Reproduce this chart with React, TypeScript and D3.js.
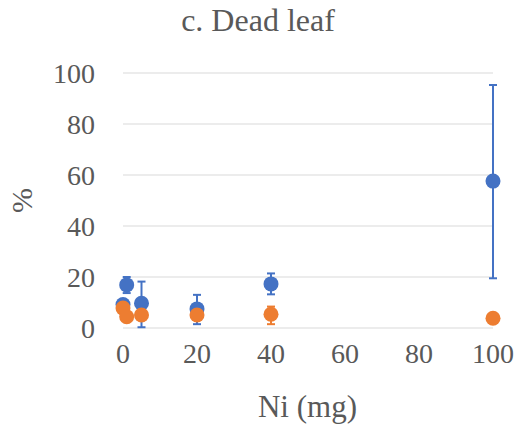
import React from "react";
import * as d3 from "d3";

const xValues = [0, 1, 5, 20, 40, 100];
const seriesBlue = [9.2, 16.9, 9.7, 7.5, 17.3, 57.6];
const blueErrUp = [1.5, 3.1, 8.5, 5.5, 4.1, 37.7];
const blueErrDown = [1.5, 3.2, 9.4, 6.0, 4.1, 38.1];
const seriesOrange = [7.8, 4.4, 5.1, 5.1, 5.4, 3.8];
const orangeErrUp = [1.5, 1.0, 1.5, 1.5, 3.0, 1.0];
const orangeErrDown = [1.5, 1.0, 1.5, 1.5, 3.9, 1.0];
const yTicks = [0, 20, 40, 60, 80, 100];
const xTicks = [0, 20, 40, 60, 80, 100];
const title = "c. Dead leaf";
const xTitle = "Ni (mg)";
const yTitle = "%";

const W = 519;
const H = 433;
const textColor = "#595959";
const FAMILY = "Liberation Serif";

function T(props: any) {
  const { children, ...rest } = props;
  return (
    <text fontFamily={FAMILY} fill={textColor} style={{ fontFamily: FAMILY }} {...rest}>
      {children}
    </text>
  );
}

export default function App() {
  const x = d3.scaleLinear().domain([0, 100]).range([123, 493]);
  const y = d3.scaleLinear().domain([0, 100]).range([328, 73]);

  const series = [
    { vals: seriesBlue, up: blueErrUp, down: blueErrDown, color: "#4472C4" },
    { vals: seriesOrange, up: orangeErrUp, down: orangeErrDown, color: "#ED7D31" },
  ];

  return (
    <svg
      width={W}
      height={H}
      fontFamily={FAMILY}
      style={{ position: "absolute", left: 0, top: 0, background: "#fff", fontFamily: FAMILY }}
    >
      <rect x={0} y={0} width={W} height={H} fill="#fff" />
      <T x={258} y={31} textAnchor="middle" fontSize={32}>
        {title}
      </T>
      {yTicks.map((t) => (
        <line key={"g" + t} x1={x(0)} x2={x(100)} y1={y(t)} y2={y(t)} stroke="#d9d9d9" strokeWidth={1} />
      ))}
      {yTicks.map((t) => (
        <T key={"yt" + t} x={95} y={y(t) + 10} textAnchor="end" fontSize={28}>
          {String(t)}
        </T>
      ))}
      {xTicks.map((t) => (
        <T key={"xt" + t} x={x(t)} y={363} textAnchor="middle" fontSize={28}>
          {String(t)}
        </T>
      ))}
      <T x={307.5} y={417} textAnchor="middle" fontSize={31}>
        {xTitle}
      </T>
      <T transform="translate(32,200.5) rotate(-90)" textAnchor="middle" fontSize={30}>
        {yTitle}
      </T>
      {series.map((s, si) => (
        <g key={"s" + si}>
          {xValues.map((xv, i) => {
            const cx = x(xv);
            const top = y(s.vals[i] + s.up[i]);
            const bot = y(s.vals[i] - s.down[i]);
            return (
              <g key={i} stroke={s.color} strokeWidth={2}>
                <line x1={cx} x2={cx} y1={top} y2={bot} />
                <line x1={cx - 4} x2={cx + 4} y1={top} y2={top} />
                <line x1={cx - 4} x2={cx + 4} y1={bot} y2={bot} />
              </g>
            );
          })}
          {xValues.map((xv, i) => (
            <circle key={"c" + i} cx={x(xv)} cy={y(s.vals[i])} r={7.5} fill={s.color} />
          ))}
        </g>
      ))}
    </svg>
  );
}
